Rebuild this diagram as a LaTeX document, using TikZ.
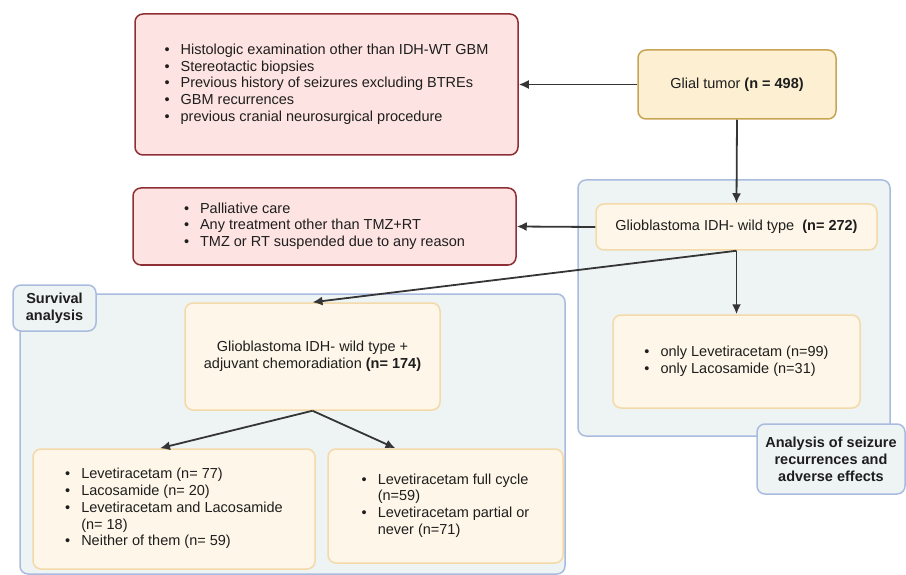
\documentclass[tikz,border=0pt]{standalone}
\usepackage{fontspec}
\setmainfont{Liberation Sans}
\usepackage{tikz}
\usetikzlibrary{arrows.meta}

\definecolor{exclfill}{HTML}{FDE3E1}
\definecolor{excldraw}{HTML}{8E2F35}
\definecolor{glialfill}{HTML}{FCEFD2}
\definecolor{glialdraw}{HTML}{C7A553}
\definecolor{cohortfill}{HTML}{FEF6E8}
\definecolor{cohortdraw}{HTML}{F4D9A9}
\definecolor{groupfill}{HTML}{EEF4F4}
\definecolor{groupdraw}{HTML}{A9BCE0}
\definecolor{ink}{HTML}{1E1E1E}

\newcommand{\blist}[1]{\begin{tabular}{@{}l@{\hspace{11pt}}l@{}}#1\end{tabular}}

\begin{document}
\begin{tikzpicture}[x=1pt,y=-1pt,
    font=\fontsize{14.5}{16.8}\selectfont, text=ink,
    box/.style={rectangle,rounded corners=8pt,line width=1.5pt,align=center,inner sep=0pt},
    exclbox/.style={box,fill=exclfill,draw=excldraw},
    glialbox/.style={box,fill=glialfill,draw=glialdraw},
    cohortbox/.style={box,fill=cohortfill,draw=cohortdraw},
    groupbox/.style={box,fill=groupfill,draw=groupdraw},
    flow/.style={line width=1.8pt,draw=ink!90,-{Latex[length=10pt,width=9pt]}}]

    \useasboundingbox (0,0) rectangle (906,575);

    % group for seizure analysis
    \node[groupbox,minimum width=312,minimum height=256] (rgroup) at (734,308) {};
    \node[groupbox,minimum width=148,minimum height=70,font=\bfseries\fontsize{14.5}{17}\selectfont] (rlabel) at (831,459) {Analysis of seizure\\recurrences and\\adverse effects};

    % group for survival analysis
    \node[groupbox,minimum width=545,minimum height=280] (lgroup) at (292.5,434) {};
    \node[groupbox,minimum width=83,minimum height=46,font=\bfseries\fontsize{14.5}{17}\selectfont] (llabel) at (54.5,308) {Survival\\analysis};

    % starting population
    \node[glialbox,minimum width=198,minimum height=69] (glial) at (737,84.5) {Glial tumor \textbf{(n = 498)}};

    % first exclusion
    \node[exclbox,minimum width=383,minimum height=141] (excl1) at (326.5,84.5) {\blist{%
        \textbullet & Histologic examination other than IDH-WT GBM\\
        \textbullet & Stereotactic biopsies\\
        \textbullet & Previous history of seizures excluding BTREs\\
        \textbullet & GBM recurrences\\
        \textbullet & previous cranial neurosurgical procedure}};

    % IDH wild type cohort
    \node[cohortbox,minimum width=281,minimum height=46] (gb272) at (736.5,227) {Glioblastoma IDH- wild type\ \ \textbf{(n= 272)}};

    % second exclusion
    \node[exclbox,minimum width=383,minimum height=77] (excl2) at (324.5,226.5) {\blist{%
        \textbullet & Palliative care\\
        \textbullet & Any treatment other than TMZ+RT\\
        \textbullet & TMZ or RT suspended due to any reason}};

    % monotherapy split
    \node[cohortbox,minimum width=247,minimum height=93] (only) at (736.5,361.5) {\blist{%
        \textbullet & only Levetiracetam (n=99)\\
        \textbullet & only Lacosamide (n=31)}};

    % chemoradiation cohort
    \node[cohortbox,minimum width=255,minimum height=107] (gb174) at (312.5,356.5) {Glioblastoma IDH- wild type +\\adjuvant chemoradiation \textbf{(n= 174)}};

    % drug split
    \node[cohortbox,minimum width=282,minimum height=120] (bleft) at (174,509) {\blist{%
        \textbullet & Levetiracetam (n= 77)\\
        \textbullet & Lacosamide (n= 20)\\
        \textbullet & Levetiracetam and Lacosamide\\
                    & (n= 18)\\
        \textbullet & Neither of them (n= 59)}};

    % cycle split
    \node[cohortbox,minimum width=235,minimum height=114] (bright) at (445.5,506) {\blist{%
        \textbullet & Levetiracetam full cycle\\
                    & (n=59)\\
        \textbullet & Levetiracetam partial or\\
                    & never (n=71)}};

    %%%%%%%%%%%%%%%%%%%%%%%%%%%%%%%%%%%%%%%%%%%%%%%%%%%%%%

    \draw[flow] (glial.west) to (excl1.east);
    \draw[flow] (glial.south) to (gb272.north);
    \draw[flow] (gb272.west) to (excl2.east);
    \draw[flow] (gb272.south) to (only.north);
    \draw[flow] (gb272.south) to (gb174.north);
    \draw[flow] (gb174.south) to ([xshift=-14pt]bleft.north);
    \draw[flow] (gb174.south) to ([xshift=-50pt]bright.north);

\end{tikzpicture}
\end{document}
